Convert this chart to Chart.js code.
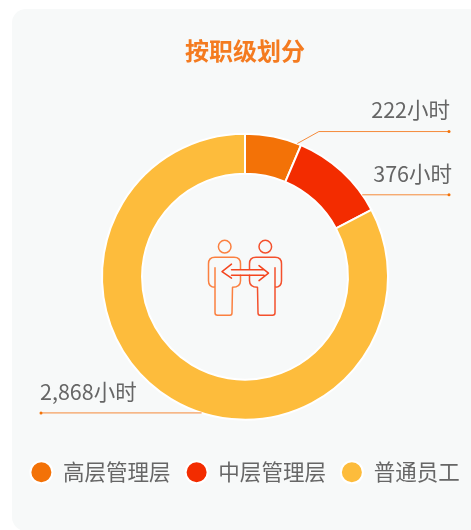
<!DOCTYPE html>
<html>
<head>
<meta charset="utf-8">
<style>
  html, body { margin: 0; padding: 0; background: #fff; overflow: hidden; }
  #card { position: absolute; left: 12px; top: 9px; width: 470px; height: 522px; background: #f7f9f9; border-radius: 14px; }
  #wrap { position: absolute; left: 0; top: 0; width: 471px; height: 530px; overflow: hidden; }
</style>
</head>
<body>
<div id="card"></div>
<div id="wrap"><canvas id="levelChart" width="490" height="530"></canvas></div>
<script src="https://cdn.jsdelivr.net/npm/chart.js@4"></script>
<script>
const categories = ['高层管理层', '中层管理层', '普通员工'];
const hours = [222, 376, 2868];
const colors = ['#f37207', '#f32c00', '#fdbc3c'];
const unit = '小时';
const titleText = '按职级划分';
const fontFamily = '"Noto Sans CJK SC", "Noto Sans", sans-serif';

// where on each slice the leader line starts (0 = slice start, 1 = slice end)
const leaderAnchor = [0.93, 0.82, 0.455];
const leaderLift = [12, 0, 0];
const leaderTextGap = [14, 13, 13];
const leaderTextShift = [1, 3, 1];
const leaderReach = 204;

// leader lines and value labels
const leaderPlugin = {
  id: 'leaders',
  afterDatasetsDraw(chart) {
    const c = chart.ctx;
    const arcs = chart.getDatasetMeta(0).data;
    arcs.forEach((arc, i) => {
      const a = arc.startAngle + (arc.endAngle - arc.startAngle) * leaderAnchor[i];
      const sx = arc.x + Math.cos(a) * arc.outerRadius;
      const sy = arc.y + Math.sin(a) * arc.outerRadius;
      const dir = sx >= arc.x ? 1 : -1;
      const ly = sy - leaderLift[i];
      const ex = arc.x + dir * leaderReach;
      c.save();
      c.strokeStyle = '#f58a3a';
      c.lineWidth = 1;
      c.beginPath();
      c.moveTo(sx, sy);
      if (leaderLift[i]) c.lineTo(sx + leaderLift[i] * 1.8, ly);
      c.lineTo(ex, ly);
      c.stroke();
      c.fillStyle = '#f37207';
      c.beginPath();
      c.arc(ex, ly, 1.5, 0, Math.PI * 2);
      c.fill();
      c.fillStyle = '#666666';
      c.font = '21.5px ' + fontFamily;
      c.textAlign = dir > 0 ? 'right' : 'left';
      c.textBaseline = 'alphabetic';
      c.fillText(hours[i].toLocaleString('en-US') + unit, ex + dir * leaderTextShift[i], ly - leaderTextGap[i]);
      c.restore();
    });
  }
};

// one person of the icon, drawn on the left of the centre
function drawPerson(c, color) {
  c.strokeStyle = color;
  c.lineWidth = 1.5;
  c.lineJoin = 'round';
  c.lineCap = 'round';
  c.beginPath();
  c.moveTo(-4.5, -7.5);
  c.lineTo(-4.5, -13);
  c.quadraticCurveTo(-4.5, -19.5, -11, -19.5);
  c.lineTo(-30, -19.5);
  c.quadraticCurveTo(-36.5, -19.5, -36.5, -13);
  c.lineTo(-36.5, 4);
  c.quadraticCurveTo(-36.5, 10.5, -30, 10.5);
  c.moveTo(-30, -9);
  c.lineTo(-30, 36);
  c.quadraticCurveTo(-30, 38.5, -27.5, 38.5);
  c.lineTo(-15, 38.5);
  c.quadraticCurveTo(-13, 38.5, -13, 36);
  c.lineTo(-12.5, 10.5);
  c.quadraticCurveTo(-4.5, 10.5, -4.5, 4);
  c.lineTo(-4.5, -1.5);
  c.stroke();
  c.beginPath();
  c.arc(-20.3, -30, 6.3, 0, Math.PI * 2);
  c.stroke();
}

// two people icon in the hole
const iconPlugin = {
  id: 'centerIcon',
  afterDraw(chart) {
    const arc = chart.getDatasetMeta(0).data[0];
    const c = chart.ctx;
    c.save();
    c.translate(arc.x, arc.y);
    drawPerson(c, '#fb8040');
    c.scale(-1, 1);
    drawPerson(c, '#f4502c');
    c.scale(-1, 1);
    c.strokeStyle = '#f4451f';
    c.lineWidth = 1.5;
    c.beginPath();
    c.moveTo(-13.5, -12.5); c.lineTo(-23, -5); c.lineTo(-13.5, 1.5);
    c.moveTo(-13.5, -7); c.lineTo(19, -7);
    c.moveTo(14, -11); c.lineTo(23.5, -3.5); c.lineTo(14, 4);
    c.moveTo(-13.5, -1.5); c.lineTo(19, -1.5);
    c.stroke();
    c.restore();
  }
};

new Chart(document.getElementById('levelChart'), {
  type: 'doughnut',
  data: {
    labels: categories,
    datasets: [{
      data: hours,
      backgroundColor: colors,
      borderColor: '#ffffff',
      borderWidth: 2,
      radius: 143,
      cutout: '72%'
    }]
  },
  options: {
    responsive: false,
    animation: false,
    rotation: 0,
    layout: { padding: { bottom: 37 } },
    plugins: {
      tooltip: { enabled: false },
      title: {
        display: true,
        text: titleText,
        color: '#f47b20',
        font: { family: fontFamily, size: 24, weight: '700' },
        padding: { top: 36, bottom: 42 }
      },
      legend: {
        position: 'bottom',
        labels: {
          usePointStyle: true,
          pointStyle: 'circle',
          pointStyleWidth: 22,
          boxHeight: 15.5,
          padding: 15,
          color: '#666666',
          font: { family: fontFamily, size: 21.5 }
        }
      }
    }
  },
  plugins: [leaderPlugin, iconPlugin]
});
</script>
</body>
</html>
